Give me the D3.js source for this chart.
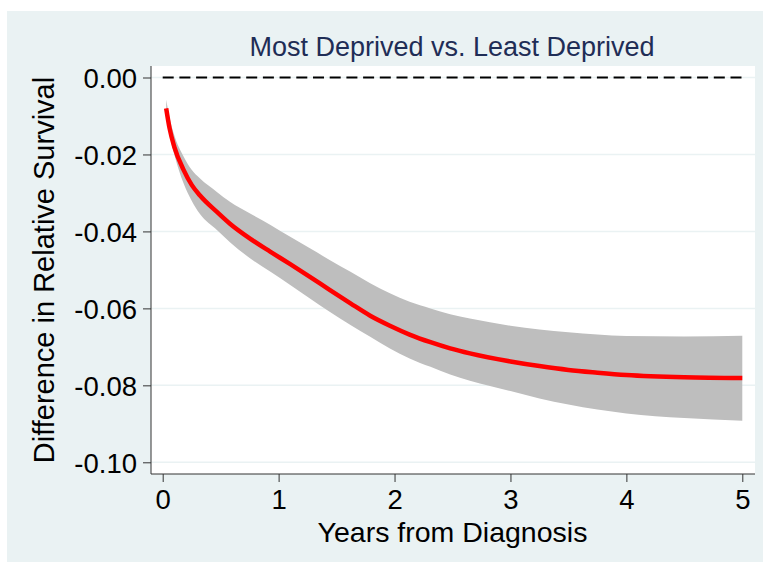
<!DOCTYPE html>
<html lang="en">
    <head>
        <meta charset="UTF-8">
        <script src="https://d3js.org/d3.v7.min.js"></script>
        <style>
            body { margin: 0; background: #fff; }
            text { font-family: "Liberation Sans", Arial, Helvetica, sans-serif; }
            .tick-label { font-size: 27.5px; fill: #000; }
            .axis-title { font-size: 28.5px; fill: #000; }
        </style>
    </head>
    <body>
        <svg width="763" height="562"></svg>

        <script>
            // data
            const years = [0.03, 0.06, 0.1, 0.18, 0.25, 0.32, 0.47, 0.58, 0.75, 0.93, 1.1, 1.27, 1.44, 1.62, 1.79, 1.96, 2.13, 2.31, 2.48, 2.65, 3.0, 3.25, 3.5, 3.75, 4.0, 4.5, 5.0];
            const estimate = [-0.0080, -0.0133, -0.0180, -0.0240, -0.0279, -0.0306, -0.0350, -0.0380, -0.0418, -0.0453, -0.0485, -0.0518, -0.0552, -0.0587, -0.0619, -0.0645, -0.0668, -0.0688, -0.0704, -0.0717, -0.0738, -0.0750, -0.0760, -0.0767, -0.0773, -0.0779, -0.0781];
            const upper = [-0.0058, -0.0105, -0.0150, -0.0205, -0.0240, -0.0262, -0.0298, -0.0323, -0.0353, -0.0383, -0.0414, -0.0444, -0.0474, -0.0505, -0.0535, -0.0561, -0.0583, -0.0600, -0.0615, -0.0626, -0.0645, -0.0655, -0.0662, -0.0668, -0.0672, -0.0673, -0.0671];
            const lower = [-0.0095, -0.0150, -0.0200, -0.0275, -0.0320, -0.0354, -0.0397, -0.0428, -0.0469, -0.0505, -0.0539, -0.0574, -0.0609, -0.0643, -0.0674, -0.0704, -0.0730, -0.0752, -0.0772, -0.0788, -0.0815, -0.0834, -0.0850, -0.0863, -0.0873, -0.0885, -0.0892];
            const xTicks = [0, 1, 2, 3, 4, 5];
            const yTicks = [0, -0.02, -0.04, -0.06, -0.08, -0.10];

            const title = "Most Deprived vs. Least Deprived";
            const xTitle = "Years from Diagnosis";
            const yTitle = "Difference in Relative Survival";

            const rows = years.map((t, i) => ({ t: t, est: estimate[i], lo: lower[i], hi: upper[i] }));

            const svg = d3.select("svg");

            // outer graph region
            svg.append("rect")
                .attr("x", 7).attr("y", 11)
                .attr("width", 756).attr("height", 551)
                .attr("fill", "#eaf2f3");

            // plot region
            const plot = { left: 151, top: 66, right: 755, bottom: 474 };
            svg.append("rect")
                .attr("x", plot.left).attr("y", plot.top)
                .attr("width", plot.right - plot.left)
                .attr("height", plot.bottom - plot.top)
                .attr("fill", "#fff");

            const x = d3.scaleLinear().domain([0, 5]).range([162.7, 742.3]);
            const y = d3.scaleLinear().domain([-0.10, 0]).range([462.3, 77.5]);

            // gridlines
            svg.append("g")
                .selectAll("line")
                .data(yTicks)
                .join("line")
                .attr("x1", plot.left).attr("x2", plot.right)
                .attr("y1", d => y(d)).attr("y2", d => y(d))
                .attr("stroke", "#eaf2f3")
                .attr("stroke-width", 1.5);

            // confidence band
            const band = d3.area()
                .x(d => x(d.t))
                .y0(d => y(d.lo))
                .y1(d => y(d.hi))
                .curve(d3.curveMonotoneX);
            svg.append("path")
                .datum(rows)
                .attr("d", band)
                .attr("fill", "#bebebe");

            // reference line at zero
            svg.append("line")
                .attr("x1", x(0)).attr("x2", x(5))
                .attr("y1", y(0)).attr("y2", y(0))
                .attr("stroke", "#000")
                .attr("stroke-width", 2)
                .attr("stroke-dasharray", "11,5.7");

            // estimate
            const line = d3.line()
                .x(d => x(d.t))
                .y(d => y(d.est))
                .curve(d3.curveMonotoneX);
            svg.append("path")
                .datum(rows)
                .attr("d", line)
                .attr("fill", "none")
                .attr("stroke", "#ff0000")
                .attr("stroke-width", 4.5);

            // plain hyphen for negatives, like the original
            const fmtY = d => d3.format(".2f")(d).replace("\u2212", "-");

            // y axis
            const yAxis = svg.append("g")
                .attr("transform", `translate(${plot.left},0)`)
                .call(d3.axisLeft(y).tickValues(yTicks).tickSize(8).tickPadding(6).tickFormat(fmtY));
            yAxis.select(".domain").attr("d", `M0,${plot.top}V${plot.bottom}`).attr("stroke", "#333");
            yAxis.selectAll(".tick line").attr("stroke", "#333");
            yAxis.selectAll(".tick text")
                .attr("class", "tick-label")
                .attr("font-size", null).attr("font-family", null)
                .attr("dy", "0.36em");

            // x axis
            const xAxis = svg.append("g")
                .attr("transform", `translate(0,${plot.bottom})`)
                .call(d3.axisBottom(x).tickValues(xTicks).tickSize(8).tickPadding(7).tickFormat(d3.format("d")));
            xAxis.select(".domain").attr("d", `M${plot.left},0H${plot.right}`).attr("stroke", "#333");
            xAxis.selectAll(".tick line").attr("stroke", "#333");
            xAxis.selectAll(".tick text")
                .attr("class", "tick-label")
                .attr("font-size", null).attr("font-family", null);

            // titles
            svg.append("text")
                .attr("x", 452).attr("y", 56)
                .attr("text-anchor", "middle")
                .attr("font-size", 27)
                .attr("fill", "#1f2d56")
                .text(title);

            svg.append("text")
                .attr("class", "axis-title")
                .attr("x", 452.5).attr("y", 542)
                .attr("text-anchor", "middle")
                .text(xTitle);

            svg.append("text")
                .attr("class", "axis-title")
                .attr("transform", "translate(54,270) rotate(-90)")
                .attr("text-anchor", "middle")
                .style("font-size", "29px")
                .text(yTitle);
        </script>
    </body>
</html>
